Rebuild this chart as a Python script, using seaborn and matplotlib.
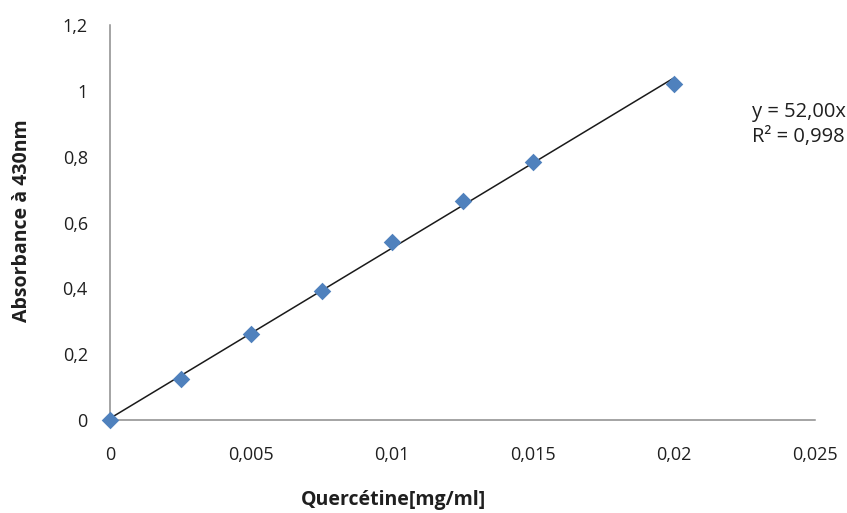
import numpy as np
import pandas as pd
import matplotlib
matplotlib.use("Agg")
import matplotlib.pyplot as plt
import seaborn as sns

# Quercetin calibration data
concentration = [0.0, 0.0025, 0.005, 0.0075, 0.01, 0.0125, 0.015, 0.02]
absorbance = [0.0, 0.125, 0.261, 0.392, 0.541, 0.665, 0.784, 1.021]
x_ticks = [0, 0.005, 0.01, 0.015, 0.02, 0.025]
x_tick_labels = ["0", "0,005", "0,01", "0,015", "0,02", "0,025"]
y_ticks = [0, 0.2, 0.4, 0.6, 0.8, 1.0, 1.2]
y_tick_labels = ["0", "0,2", "0,4", "0,6", "0,8", "1", "1,2"]
equation_text = "y = 52,00x + 0,004"
r2_text = "R² = 0,998"

df = pd.DataFrame({"conc": concentration, "abs": absorbance})

sns.set_theme(style="white")
plt.rcParams["font.family"] = ["Open Sans", "DejaVu Sans"]

W, H = 847, 513
fig = plt.figure(figsize=(W / 100, H / 100), dpi=100)
ax = fig.add_axes([110 / W, 1 - 420 / H, 705 / W, 395 / H])

sns.regplot(data=df, x="conc", y="abs", ax=ax, scatter=False, ci=None,
            truncate=True, line_kws=dict(color="#1a1a1a", lw=1.1))
sns.scatterplot(data=df, x="conc", y="abs", ax=ax, marker="D", s=80,
                color="#4F81BD", edgecolor="#4F81BD", linewidth=0,
                zorder=3, clip_on=False)

ax.set_xlim(0, 0.025)
ax.set_ylim(0, 1.2)
ax.set_xticks(x_ticks)
ax.set_xticklabels(x_tick_labels)
ax.set_yticks(y_ticks)
ax.set_yticklabels(y_tick_labels)
ax.tick_params(axis="x", length=0, pad=19, labelsize=13, colors="#1f1f1f")
ax.tick_params(axis="y", length=0, pad=16, labelsize=13, colors="#1f1f1f")

for side in ("top", "right"):
    ax.spines[side].set_visible(False)
for side in ("left", "bottom"):
    ax.spines[side].set_color("#8c8c8c")
    ax.spines[side].set_linewidth(1.1)

ax.set_xlabel("")
ax.set_ylabel("")
fig.text(393 / W, 1 - 500 / H, "Quercétine[mg/ml]", fontsize=14,
         fontweight="bold", color="#1f1f1f", ha="center", va="center")
fig.text(22 / W, 1 - 221 / H, "Absorbance à 430nm", fontsize=14,
         fontweight="bold", color="#1f1f1f", ha="center", va="center",
         rotation=90)

fig.text(752 / W, 1 - 112 / H, equation_text, fontsize=14.5,
         color="#1f1f1f", va="center", ha="left")
fig.text(752 / W, 1 - 137 / H, r2_text, fontsize=14.5,
         color="#1f1f1f", va="center", ha="left")

fig.savefig("out.png", dpi=100)
